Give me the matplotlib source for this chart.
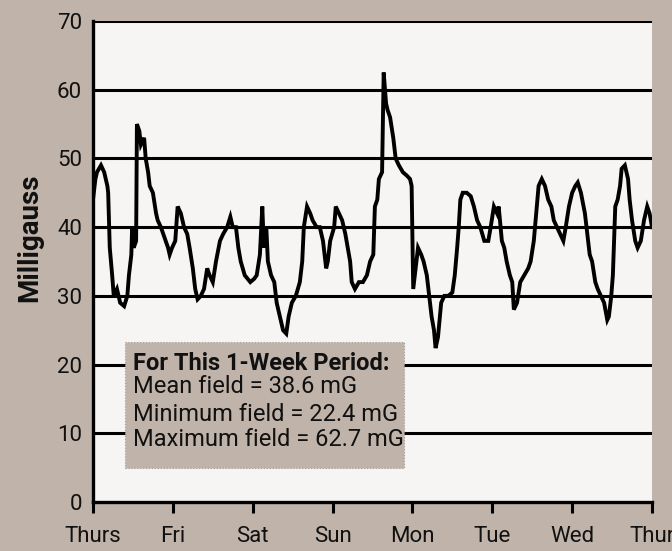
import matplotlib
matplotlib.use("Agg")
import matplotlib.pyplot as plt
from matplotlib.patches import Rectangle

# time in days since Thursday 00:00
days = [0.00, 0.03, 0.05, 0.10, 0.14, 0.18, 0.19, 0.21, 0.24, 0.26, 0.30, 0.34, 0.39, 0.43, 0.45, 0.48, 0.49, 0.51, 0.54, 0.55,
        0.58, 0.60, 0.64, 0.66, 0.69, 0.71, 0.75, 0.79, 0.81, 0.85, 0.88, 0.91, 0.94, 0.96, 0.99, 1.03, 1.06, 1.10, 1.14, 1.18,
        1.21, 1.25, 1.28, 1.31, 1.35, 1.39, 1.43, 1.46, 1.50, 1.54, 1.59, 1.63, 1.68, 1.72, 1.75, 1.79, 1.82, 1.85, 1.90, 1.97,
        2.02, 2.05, 2.09, 2.12, 2.14, 2.17, 2.19, 2.23, 2.27, 2.30, 2.34, 2.38, 2.42, 2.45, 2.49, 2.54, 2.59, 2.62, 2.64, 2.68,
        2.72, 2.75, 2.80, 2.84, 2.88, 2.92, 2.94, 2.97, 3.02, 3.04, 3.08, 3.12, 3.16, 3.19, 3.22, 3.24, 3.28, 3.33, 3.38, 3.43,
        3.47, 3.51, 3.53, 3.56, 3.58, 3.62, 3.64, 3.67, 3.69, 3.72, 3.76, 3.79, 3.83, 3.88, 3.93, 3.97, 3.99, 4.01, 4.03, 4.07,
        4.11, 4.14, 4.18, 4.21, 4.24, 4.27, 4.29, 4.32, 4.36, 4.40, 4.45, 4.50, 4.53, 4.56, 4.58, 4.60, 4.63, 4.68, 4.73, 4.77,
        4.81, 4.85, 4.90, 4.95, 4.98, 5.02, 5.06, 5.08, 5.12, 5.15, 5.18, 5.22, 5.25, 5.27, 5.31, 5.35, 5.40, 5.45, 5.48, 5.52,
        5.55, 5.58, 5.62, 5.66, 5.70, 5.74, 5.77, 5.81, 5.85, 5.89, 5.92, 5.96, 6.00, 6.04, 6.07, 6.11, 6.16, 6.20, 6.22, 6.25,
        6.29, 6.32, 6.36, 6.40, 6.44, 6.46, 6.49, 6.51, 6.54, 6.57, 6.60, 6.62, 6.66, 6.70, 6.72, 6.75, 6.79, 6.82, 6.86, 6.90,
        6.94, 6.97, 7.00]

milligauss = [44, 47, 48, 49, 48, 46, 45, 37, 33, 30, 31, 29, 28.5, 30, 33, 36, 40, 37, 38, 55,
              54, 52, 53, 50, 48, 46, 45, 42, 41, 40, 39, 38, 37, 36, 37, 38, 43, 42, 40, 39,
              37, 34, 31, 29.5, 30, 31, 34, 33, 32, 35, 38, 39, 40, 41.5, 40, 40, 37, 35, 33, 32,
              32.5, 33, 36, 43, 37, 40, 35, 33, 32, 29, 27, 25, 24.5, 27, 29, 30, 32, 35, 40, 43,
              42, 41, 40, 40, 38, 34, 35, 38, 40, 43, 42, 41, 39, 37, 35, 32, 31, 32, 32, 33,
              35, 36, 43, 44, 47, 48, 62.5, 58, 57, 56, 53, 50, 49, 48, 47.5, 47, 46, 31, 33, 37,
              36, 35, 33, 30, 27, 25, 22.4, 24, 29, 30, 30, 30.5, 33, 37, 40, 44, 45, 45, 44.5, 43,
              41, 40, 38, 38, 40, 43, 42, 43, 38, 37, 35, 33, 32, 28, 29, 32, 33, 34, 35, 38,
              42, 46, 47, 46, 44, 43, 41, 40, 39, 38, 40, 43, 45, 46, 46.5, 45, 42, 38, 36, 35,
              32, 31, 30, 29, 26.5, 27, 30, 33, 43, 44, 46, 48.5, 49, 47, 44, 41, 38, 37, 38, 41,
              43, 42, 40]

day_ticks = [0, 1, 2, 3, 4, 5, 6, 7]
day_labels = ["Thurs", "Fri", "Sat", "Sun", "Mon", "Tue", "Wed", "Thur"]
y_ticks = [0, 10, 20, 30, 40, 50, 60, 70]
stats_title = "For This 1-Week Period:"
stats_lines = ["Mean field = 38.6 mG", "Minimum field = 22.4 mG", "Maximum field = 62.7 mG"]

BG = "#c0b3aa"
FONT = ["Roboto", "DejaVu Sans"]

fig = plt.figure(figsize=(6.72, 5.51), dpi=100, facecolor=BG)
ax = fig.add_axes([93/672, 1 - 502/551, (652-93)/672, (502-21)/551])
ax.set_facecolor("#f6f5f3")

for v in y_ticks[1:]:
    ax.axhline(v, color="black", lw=2.2, zorder=1)

ax.plot(days, milligauss, color="black", lw=2.8, zorder=3, solid_joinstyle="miter")

ax.set_xlim(0, 7)
ax.set_ylim(0, 70)
ax.set_xticks(day_ticks)
ax.set_xticklabels(day_labels, fontsize=16, family=FONT, color="#111111")
ax.set_yticks(y_ticks)
ax.set_yticklabels([str(t) for t in y_ticks], fontsize=16, family=FONT, color="#111111")
ax.tick_params(axis="x", direction="out", length=8, width=2.2, pad=9)
ax.tick_params(axis="y", length=0, pad=8)

for s in ["top", "right"]:
    ax.spines[s].set_visible(False)
for s in ["left", "bottom"]:
    ax.spines[s].set_linewidth(2.4)
    ax.spines[s].set_color("black")

fig.text(30/672, 1 - 238/551, "Milligauss", rotation=90, fontsize=20, fontweight="bold",
         family=FONT, ha="center", va="center", color="#111111")

# stats box
box = Rectangle((0.40, 4.9), 3.5, 18.4, facecolor=BG, edgecolor="#a89c93", lw=0.8,
                linestyle=":", zorder=5)
ax.add_patch(box)
ax.text(0.50, 20.2, stats_title, fontsize=17, fontweight="bold", family=FONT,
        va="center", ha="left", zorder=6, color="#111111")
line_y = [16.8, 12.8, 9.1]
for yv, line in zip(line_y, stats_lines):
    ax.text(0.50, yv, line, fontsize=17, family=FONT, va="center", ha="left", zorder=6,
            color="#111111")

fig.savefig("out.png", dpi=100, facecolor=BG)
